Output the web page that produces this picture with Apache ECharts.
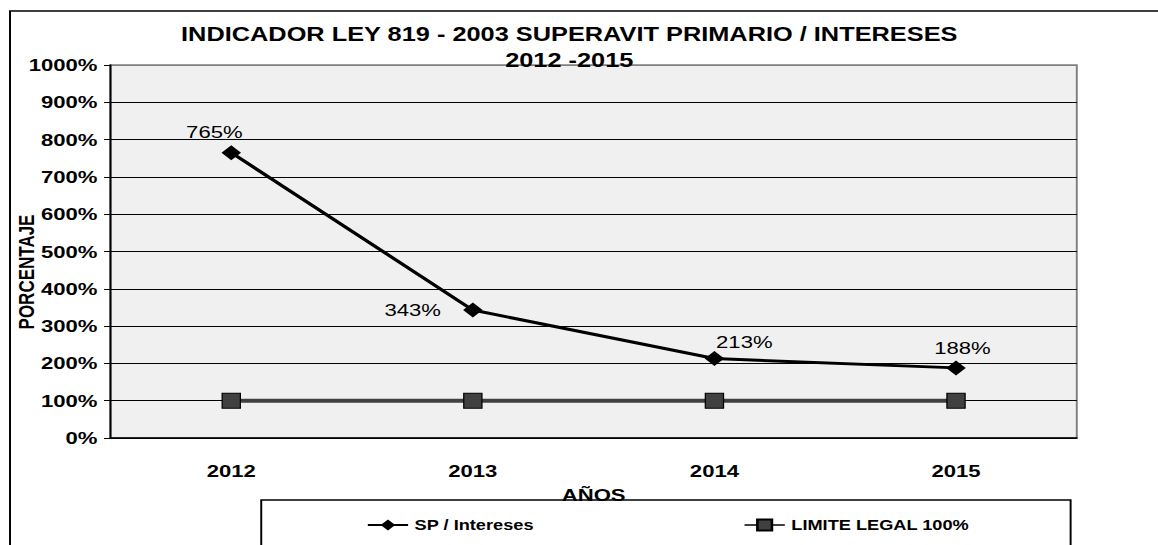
<!DOCTYPE html>
<html>
<head>
<meta charset="utf-8">
<script src="https://cdn.jsdelivr.net/npm/echarts@6/dist/echarts.min.js"></script>
<style>
    html, body { margin: 0; padding: 0; background: #fff; }
    /* el original está estirado horizontalmente, se dibuja angosto y se estira */
    #main {
        width: 891px;
        height: 545px;
        transform: scaleX(1.2997);
        transform-origin: 0 0;
    }
</style>
</head>
<body>
<div id="main"></div>
<script>
/* datos --------------------------------- */
const anios = ['2012', '2013', '2014', '2015']
const spIntereses = [765, 343, 213, 188]
const limiteLegal = [100, 100, 100, 100]

const font = "'Liberation Sans', Arial, sans-serif"

// posición de las etiquetas de cada punto
const etiquetas = [
    { position: 'top', offset: [-13, 0] },
    { position: 'left', distance: 17 },
    { position: 'top', offset: [23, 4] },
    { position: 'top', offset: [5, 1] }
]

const gridColors = ['#000', '#000', '#000', '#000', '#000', '#000', '#000', '#000', '#000', '#000', '#808080']

const chart = echarts.init(document.getElementById('main'), null, { renderer: 'svg' })
chart.setOption({
    animation: false,
    title: [
        {
            text: 'INDICADOR LEY 819 - 2003 SUPERAVIT PRIMARIO / INTERESES',
            left: 438,
            top: 25,
            textAlign: 'center',
            padding: 0,
            textStyle: { fontFamily: font, fontSize: 19.5, fontWeight: 'bold', color: '#000' }
        },
        {
            text: '2012 -2015',
            left: 438,
            top: 51,
            textAlign: 'center',
            padding: 0,
            textStyle: { fontFamily: font, fontSize: 19.5, fontWeight: 'bold', color: '#000' }
        }
    ],
    graphic: [
        {
            type: 'rect',
            shape: { x: 7.7, y: 11, width: 2000, height: 1000 },
            style: { fill: 'none', stroke: '#000', lineWidth: 1.5 },
            silent: true
        },
        {
            type: 'text',
            x: 20,
            y: 272,
            rotation: Math.PI / 2,
            style: {
                text: 'PORCENTAJE',
                font: 'bold 17px ' + font,
                fill: '#000',
                align: 'center',
                verticalAlign: 'middle'
            }
        }
    ],
    legend: {
        left: 201,
        top: 500,
        padding: [18, 78, 40, 81],
        itemGap: 161,
        itemWidth: 31,
        itemHeight: 14,
        borderColor: '#000',
        borderWidth: 1.5,
        borderRadius: 0,
        textStyle: { fontFamily: font, fontSize: 14, fontWeight: 'bold', color: '#000' },
        data: ['SP / Intereses', 'LIMITE LEGAL 100%']
    },
    grid: {
        left: 85,
        right: 62.5,
        top: 65,
        bottom: 107,
        show: true,
        backgroundColor: '#f0f0f0',
        borderColor: '#808080',
        borderWidth: 1.5
    },
    xAxis: {
        type: 'category',
        data: anios,
        name: 'AÑOS',
        nameLocation: 'middle',
        nameGap: 48,
        nameTextStyle: { fontFamily: font, fontSize: 17, fontWeight: 'bold', color: '#000' },
        axisLine: { lineStyle: { color: '#000', width: 1.5 } },
        axisTick: { length: 5, lineStyle: { color: '#000', width: 1.2 } },
        axisLabel: { margin: 24, fontFamily: font, fontSize: 17, fontWeight: 'bold', color: '#000' }
    },
    yAxis: {
        type: 'value',
        min: 0,
        max: 1000,
        interval: 100,
        axisLine: { show: true, lineStyle: { color: '#000', width: 1.5 } },
        axisTick: { show: true, length: 5, lineStyle: { color: '#000', width: 1 } },
        axisLabel: {
            margin: 10,
            formatter: v => v + '%',
            fontFamily: font,
            fontSize: 17,
            fontWeight: 'bold',
            color: '#000'
        },
        splitLine: { lineStyle: { color: gridColors, width: 1 } }
    },
    series: [
        {
            name: 'SP / Intereses',
            type: 'line',
            data: spIntereses.map((v, i) => ({
                value: v,
                label: etiquetas[i]
            })),
            symbol: 'diamond',
            symbolSize: 15,
            itemStyle: { color: '#000' },
            lineStyle: { color: '#000', width: 3 },
            label: {
                show: true,
                formatter: '{c}%',
                fontFamily: font,
                fontSize: 17,
                color: '#000'
            },
            z: 3
        },
        {
            name: 'LIMITE LEGAL 100%',
            type: 'line',
            data: limiteLegal,
            symbol: 'rect',
            symbolSize: [14, 15],
            itemStyle: { color: '#404040', borderColor: '#000', borderWidth: 1 },
            lineStyle: { color: '#404040', width: 4 },
            z: 2
        }
    ]
})
</script>
</body>
</html>
